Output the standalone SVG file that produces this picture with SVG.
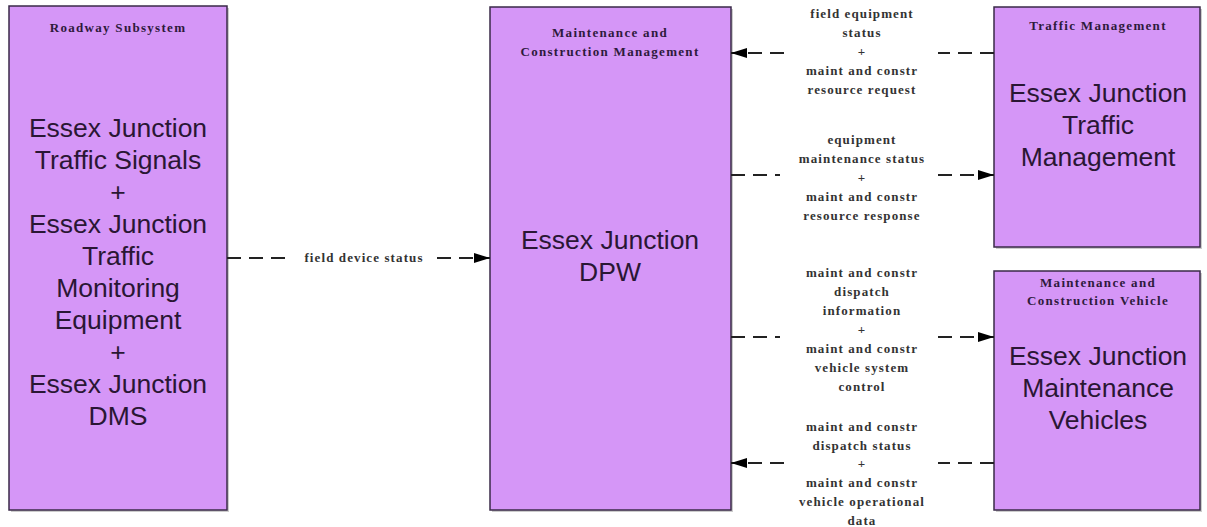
<svg xmlns="http://www.w3.org/2000/svg" width="1207" height="527" viewBox="0 0 1207 527">
<style>
.box{fill:#D596F7;stroke:#3a2a48;stroke-width:1.5}
.shadow{fill:#9a9a9a;opacity:0.5}
.title{font-family:"Liberation Serif",serif;font-weight:bold;font-size:13px;letter-spacing:1.3px;fill:#2e1a3c;text-anchor:middle}
.big{font-family:"Liberation Sans",Arial,sans-serif;font-size:26.5px;fill:#2a1634;text-anchor:middle}
.lbl{font-family:"Liberation Serif",serif;font-weight:bold;font-size:13px;letter-spacing:1.1px;fill:#333;text-anchor:middle}
.flow{fill:none;stroke:#222;stroke-width:1.8;stroke-dasharray:14 8}
</style>
<defs>
<marker id="ah" viewBox="0 0 16 10" refX="16" refY="5" markerWidth="16" markerHeight="10" markerUnits="userSpaceOnUse" orient="auto">
<path d="M0,0 L16,5 L0,10 Z" fill="#000"/>
</marker>
</defs>
<rect width="1207" height="527" fill="#fff"/>

<g id="roadway">
<rect class="shadow" x="11" y="8" width="218" height="504"/>
<rect class="box" x="9" y="6" width="218" height="504"/>
<text class="title" x="118" y="32">Roadway Subsystem</text>
<text class="big" x="118" y="137">Essex Junction</text>
<text class="big" x="118" y="169">Traffic Signals</text>
<text class="big" x="118" y="201">+</text>
<text class="big" x="118" y="233">Essex Junction</text>
<text class="big" x="118" y="265">Traffic</text>
<text class="big" x="118" y="297">Monitoring</text>
<text class="big" x="118" y="329">Equipment</text>
<text class="big" x="118" y="361">+</text>
<text class="big" x="118" y="393">Essex Junction</text>
<text class="big" x="118" y="425">DMS</text>
</g>

<g id="dpw">
<rect class="shadow" x="492" y="9" width="241" height="503"/>
<rect class="box" x="490" y="7" width="241" height="503"/>
<text class="title" x="610" y="37">Maintenance and</text>
<text class="title" x="610" y="56">Construction Management</text>
<text class="big" x="610" y="249">Essex Junction</text>
<text class="big" x="610" y="281">DPW</text>
</g>

<g id="traffic">
<rect class="shadow" x="996" y="9" width="206" height="240"/>
<rect class="box" x="994" y="7" width="206" height="240"/>
<text class="title" x="1098" y="30">Traffic Management</text>
<text class="big" x="1098" y="102">Essex Junction</text>
<text class="big" x="1098" y="134">Traffic</text>
<text class="big" x="1098" y="166">Management</text>
</g>

<g id="vehicle">
<rect class="shadow" x="996" y="273" width="206" height="239"/>
<rect class="box" x="994" y="271" width="206" height="239"/>
<text class="title" x="1098" y="287">Maintenance and</text>
<text class="title" x="1098" y="305">Construction Vehicle</text>
<text class="big" x="1098" y="365">Essex Junction</text>
<text class="big" x="1098" y="397">Maintenance</text>
<text class="big" x="1098" y="429">Vehicles</text>
</g>

<g id="connectors">
<path class="flow" d="M227,258 L290,258 M437,258 L490,258" marker-end="url(#ah)"/>
<text class="lbl" x="364" y="262">field device status</text>

<path class="flow" d="M994,53 L938,53 M784,53 L731,53" marker-end="url(#ah)"/>
<text class="lbl" x="862" y="18">field equipment</text>
<text class="lbl" x="862" y="37">status</text>
<text class="lbl" x="862" y="56">+</text>
<text class="lbl" x="862" y="75">maint and constr</text>
<text class="lbl" x="862" y="94">resource  request</text>

<path class="flow" d="M731,175 L780,175 M938,175 L994,175" marker-end="url(#ah)"/>
<text class="lbl" x="862" y="144">equipment</text>
<text class="lbl" x="862" y="163">maintenance status</text>
<text class="lbl" x="862" y="182">+</text>
<text class="lbl" x="862" y="201">maint and constr</text>
<text class="lbl" x="862" y="220">resource response</text>

<path class="flow" d="M731,337 L780,337 M938,337 L994,337" marker-end="url(#ah)"/>
<text class="lbl" x="862" y="277">maint and constr</text>
<text class="lbl" x="862" y="296">dispatch</text>
<text class="lbl" x="862" y="315">information</text>
<text class="lbl" x="862" y="334">+</text>
<text class="lbl" x="862" y="353">maint and constr</text>
<text class="lbl" x="862" y="372">vehicle system</text>
<text class="lbl" x="862" y="391">control</text>

<path class="flow" d="M994,463 L938,463 M784,463 L731,463" marker-end="url(#ah)"/>
<text class="lbl" x="862" y="431">maint and constr</text>
<text class="lbl" x="862" y="450">dispatch status</text>
<text class="lbl" x="862" y="468">+</text>
<text class="lbl" x="862" y="487">maint and constr</text>
<text class="lbl" x="862" y="506">vehicle operational</text>
<text class="lbl" x="862" y="525">data</text>
</g>
</svg>
